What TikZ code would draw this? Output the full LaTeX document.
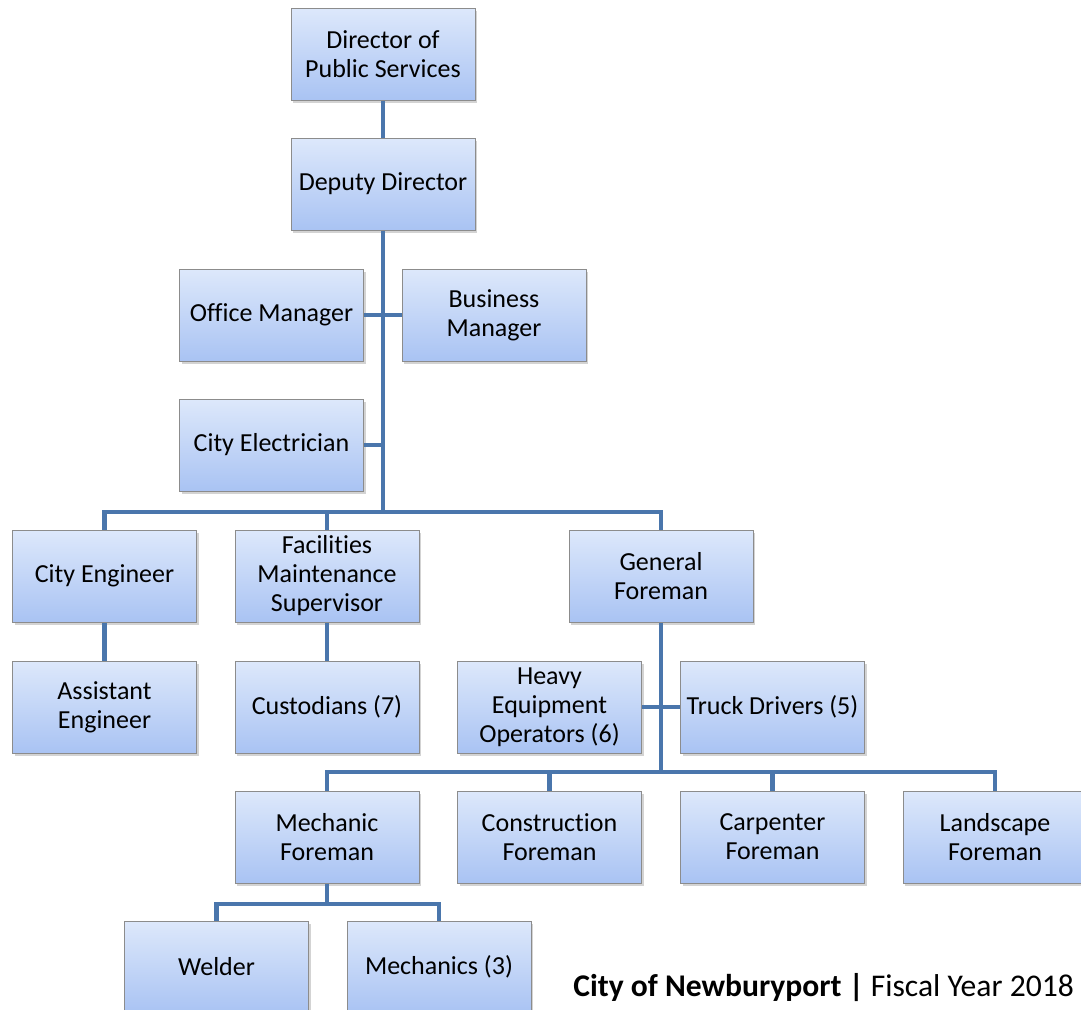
\documentclass[tikz,border=0pt]{standalone}
\usepackage{fontspec}
\setmainfont{Carlito}[Ligatures=NoCommon]
\usetikzlibrary{positioning, shadows}

\definecolor{boxtop}{HTML}{DDE8FB}
\definecolor{boxbot}{HTML}{A9C3F3}
\definecolor{boxline}{HTML}{8C8C8C}
\definecolor{linkblue}{HTML}{4A76AC}

\begin{document}
\begin{tikzpicture}[x=0.5pt, y=-0.5pt,
  post/.style={draw=boxline, line width=0.5pt, top color=boxtop, bottom color=boxbot,
    minimum width=92pt, minimum height=46pt, inner sep=1pt, align=center,
    font=\fontsize{13}{14.5}\selectfont,
    drop shadow={opacity=0.35, shadow xshift=1pt, shadow yshift=-1.5pt}},
  link/.style={draw=linkblue, line width=2.3pt}]

\useasboundingbox (0,0) rectangle (1081,1009);

% Top of the tree
\node[post] (dir) at (383,54) {Director of\\Public Services};
\node[post] (dep) at (383,184) {Deputy Director};

% Staff beside the trunk
\node[post] (off) at (271.5,315) {Office Manager};
\node[post] (bus) at (494,315) {Business\\Manager};
\node[post] (elec) at (271.5,445) {City Electrician};

% Second level
\node[post] (eng) at (104.5,576) {City Engineer};
\node[post] (fac) at (327,576) {Facilities\\Maintenance\\Supervisor};
\node[post] (gen) at (661,576) {General\\Foreman};

% Third level
\node[post] (asst) at (104.5,707) {Assistant\\Engineer};
\node[post] (cust) at (327,707) {Custodians (7)};
\node[post] (heavy) at (549.5,707) {Heavy\\Equipment\\Operators (6)};
\node[post] (truck) at (772.5,707) {Truck Drivers (5)};

% Foremen
\node[post] (mech) at (327,837) {Mechanic\\Foreman};
\node[post] (cons) at (549.5,837) {Construction\\Foreman};
\node[post] (carp) at (772.5,837) {Carpenter\\Foreman};
\node[post] (land) at (995,837) {Landscape\\Foreman};

% Bottom row
\node[post] (weld) at (216.5,967) {Welder};
\node[post] (mechs) at (439,967) {Mechanics (3)};

% Bus points
\coordinate (busA) at (383,512);
\coordinate (busB) at (661,772);
\coordinate (busC) at (327,904);

% Connectors
\draw[link] (dir) -- (dep);
\draw[link] (dep) -- (busA);
\draw[link] (off.east) -- (bus.west);
\draw[link] (elec.east) -- (elec.east -| busA);
\draw[link] (eng.north) |- (busA) -| (gen.north);
\draw[link] (fac.north) -- (fac.north |- busA);
\draw[link] (eng) -- (asst);
\draw[link] (fac) -- (cust);
\draw[link] (gen) -- (busB);
\draw[link] (heavy.east) -- (truck.west);
\draw[link] (mech.north) |- (busB) -| (land.north);
\draw[link] (cons.north) -- (cons.north |- busB);
\draw[link] (carp.north) -- (carp.north |- busB);
\draw[link] (mech) -- (busC);
\draw[link] (weld.north) |- (busC) -| (mechs.north);

% Footer
\node[anchor=base west, inner sep=0pt, font=\fontsize{15.8}{18}\selectfont] (foot) at (573,996)
  {\textbf{City of Newburyport |} Fiscal Year 2018};

\end{tikzpicture}
\end{document}
